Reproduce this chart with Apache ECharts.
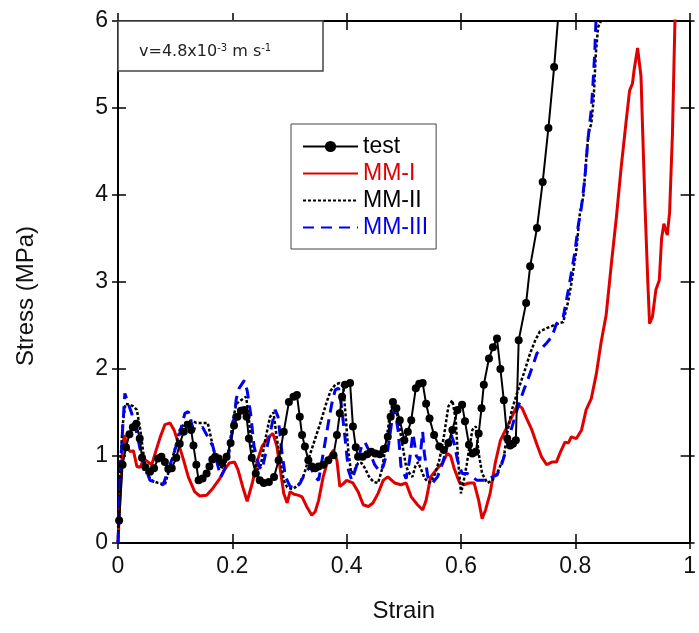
<!DOCTYPE html>
<html>
<head>
<meta charset="utf-8">
<script src="https://cdn.jsdelivr.net/npm/echarts@6/dist/echarts.min.js"></script>
<style>html,body{margin:0;padding:0;background:#fff;}#c{width:699px;height:633px;}</style>
</head>
<body>
<div id="c"></div>
<script>
var xTicks = [0, 0.2, 0.4, 0.6, 0.8, 1];
var yTicks = [0, 1, 2, 3, 4, 5, 6];
var seriesNames = ['test', 'MM-I', 'MM-II', 'MM-III'];

var testData = [[0.002,0.26],[0.008,0.9],[0.014,1.1],[0.02,1.25],[0.026,1.33],[0.032,1.37],[0.038,1.2],[0.042,0.98],[0.048,0.87],[0.056,0.82],[0.063,0.86],[0.07,0.97],[0.076,0.99],[0.082,0.93],[0.088,0.85],[0.094,0.86],[0.102,0.98],[0.108,1.14],[0.115,1.28],[0.122,1.36],[0.128,1.3],[0.132,1.12],[0.137,0.9],[0.141,0.72],[0.148,0.74],[0.155,0.8],[0.16,0.88],[0.165,0.96],[0.17,0.99],[0.176,0.97],[0.182,0.92],[0.19,0.99],[0.197,1.15],[0.203,1.35],[0.209,1.45],[0.215,1.52],[0.221,1.53],[0.225,1.45],[0.229,1.2],[0.234,0.98],[0.241,0.8],[0.248,0.72],[0.255,0.69],[0.264,0.7],[0.273,0.76],[0.281,0.95],[0.29,1.28],[0.299,1.62],[0.307,1.68],[0.313,1.7],[0.318,1.45],[0.322,1.24],[0.327,1.11],[0.333,0.95],[0.339,0.88],[0.345,0.86],[0.351,0.88],[0.359,0.9],[0.368,0.95],[0.377,1.01],[0.383,1.24],[0.388,1.49],[0.392,1.68],[0.397,1.82],[0.406,1.84],[0.411,1.34],[0.416,1.1],[0.42,0.99],[0.428,0.99],[0.436,1.02],[0.443,1.05],[0.45,1.03],[0.458,1.02],[0.465,1.08],[0.472,1.22],[0.477,1.45],[0.481,1.62],[0.487,1.55],[0.493,1.41],[0.501,1.18],[0.507,1.28],[0.513,1.41],[0.521,1.78],[0.527,1.83],[0.533,1.84],[0.539,1.6],[0.545,1.43],[0.553,1.24],[0.562,1.11],[0.57,1.07],[0.578,1.15],[0.585,1.3],[0.594,1.53],[0.602,1.59],[0.607,1.4],[0.614,1.13],[0.62,1.03],[0.626,1.05],[0.631,1.26],[0.636,1.55],[0.64,1.82],[0.649,2.12],[0.656,2.25],[0.663,2.35],[0.669,2.0],[0.675,1.64],[0.681,1.2],[0.686,1.12],[0.691,1.14],[0.696,1.18],[0.701,2.33],[0.714,2.76],[0.721,3.18],[0.733,3.62],[0.743,4.15],[0.753,4.77],[0.763,5.47],[0.772,6.2]];

var mm1Data = [[0,0],[0.004,0.6],[0.008,1.1],[0.011,1.24],[0.016,1.11],[0.021,1.05],[0.027,1.06],[0.033,0.88],[0.039,0.87],[0.045,0.97],[0.053,0.93],[0.059,0.9],[0.065,1.03],[0.074,1.22],[0.082,1.36],[0.091,1.38],[0.098,1.3],[0.105,1.16],[0.114,0.97],[0.123,0.76],[0.134,0.59],[0.143,0.54],[0.155,0.55],[0.166,0.63],[0.178,0.74],[0.186,0.84],[0.195,0.92],[0.204,0.93],[0.21,0.84],[0.218,0.65],[0.226,0.48],[0.235,0.69],[0.244,0.95],[0.252,1.11],[0.264,1.22],[0.271,1.26],[0.278,1.11],[0.284,0.84],[0.29,0.57],[0.296,0.46],[0.301,0.59],[0.308,0.56],[0.315,0.55],[0.322,0.53],[0.33,0.42],[0.339,0.32],[0.345,0.36],[0.351,0.49],[0.359,0.76],[0.368,0.97],[0.377,1.07],[0.383,0.95],[0.388,0.65],[0.394,0.68],[0.4,0.72],[0.411,0.69],[0.42,0.59],[0.429,0.44],[0.438,0.42],[0.446,0.46],[0.455,0.57],[0.464,0.72],[0.472,0.76],[0.484,0.69],[0.495,0.67],[0.504,0.69],[0.513,0.53],[0.524,0.44],[0.533,0.38],[0.539,0.49],[0.547,0.76],[0.559,0.86],[0.568,0.92],[0.576,1.03],[0.582,1.0],[0.588,0.86],[0.597,0.7],[0.605,0.67],[0.614,0.69],[0.623,0.69],[0.631,0.49],[0.637,0.28],[0.643,0.38],[0.651,0.57],[0.66,0.92],[0.669,1.18],[0.678,1.3],[0.689,1.45],[0.699,1.59],[0.707,1.55],[0.715,1.43],[0.724,1.3],[0.733,1.13],[0.741,0.99],[0.75,0.9],[0.759,0.93],[0.767,0.93],[0.773,1.03],[0.782,1.16],[0.788,1.15],[0.793,1.22],[0.802,1.2],[0.811,1.3],[0.819,1.53],[0.828,1.66],[0.837,1.95],[0.845,2.3],[0.854,2.62],[0.863,3.2],[0.872,3.75],[0.88,4.3],[0.889,4.85],[0.895,5.2],[0.9,5.28],[0.903,5.44],[0.909,5.69],[0.915,5.36],[0.918,4.71],[0.922,3.87],[0.927,2.98],[0.93,2.52],[0.935,2.6],[0.941,2.91],[0.947,3.02],[0.951,3.5],[0.955,3.67],[0.958,3.6],[0.961,3.54],[0.965,3.8],[0.97,4.71],[0.975,6.2]];

var mm2Data = [[0,0],[0.004,0.9],[0.008,1.35],[0.013,1.6],[0.021,1.59],[0.027,1.57],[0.033,1.53],[0.039,1.3],[0.045,1.0],[0.05,0.8],[0.059,0.72],[0.07,0.69],[0.082,0.67],[0.09,0.85],[0.099,1.07],[0.108,1.3],[0.117,1.38],[0.128,1.41],[0.137,1.38],[0.146,1.38],[0.157,1.38],[0.163,1.2],[0.169,1.03],[0.178,0.88],[0.186,0.86],[0.195,1.11],[0.201,1.41],[0.207,1.6],[0.215,1.64],[0.224,1.68],[0.228,1.5],[0.232,1.22],[0.238,0.95],[0.244,0.84],[0.25,0.9],[0.258,1.2],[0.266,1.45],[0.272,1.5],[0.278,1.2],[0.284,0.95],[0.29,0.72],[0.296,0.64],[0.305,0.62],[0.315,0.66],[0.325,0.78],[0.335,1.0],[0.345,1.2],[0.355,1.4],[0.365,1.62],[0.372,1.75],[0.38,1.82],[0.388,1.84],[0.394,1.8],[0.399,1.4],[0.403,1.05],[0.408,0.8],[0.415,0.85],[0.42,0.92],[0.426,0.92],[0.432,0.86],[0.44,0.75],[0.448,0.7],[0.455,0.69],[0.462,0.85],[0.468,1.1],[0.474,1.4],[0.48,1.6],[0.486,1.55],[0.492,1.35],[0.498,1.11],[0.504,0.88],[0.51,0.8],[0.515,0.76],[0.52,0.88],[0.525,0.93],[0.53,0.85],[0.536,0.75],[0.542,0.7],[0.548,0.7],[0.555,0.8],[0.562,0.95],[0.57,1.22],[0.578,1.57],[0.585,1.64],[0.591,1.41],[0.595,0.95],[0.6,0.57],[0.605,0.72],[0.61,0.9],[0.614,1.07],[0.62,1.3],[0.626,1.34],[0.631,1.03],[0.637,0.8],[0.646,0.69],[0.655,0.72],[0.666,0.84],[0.675,0.99],[0.681,1.26],[0.689,1.53],[0.698,1.72],[0.71,1.95],[0.721,2.18],[0.73,2.33],[0.738,2.43],[0.75,2.47],[0.765,2.51],[0.779,2.54],[0.788,2.79],[0.793,2.98],[0.802,3.37],[0.808,3.79],[0.814,3.98],[0.819,4.4],[0.823,4.71],[0.828,4.82],[0.832,5.09],[0.836,5.63],[0.84,5.93],[0.845,6.0],[0.848,6.2]];

var mm3Data = [[0,0],[0.004,0.8],[0.008,1.3],[0.012,1.72],[0.018,1.6],[0.024,1.49],[0.033,1.26],[0.039,1.07],[0.047,0.88],[0.056,0.72],[0.065,0.7],[0.079,0.67],[0.088,0.84],[0.097,1.01],[0.108,1.26],[0.117,1.49],[0.123,1.51],[0.131,1.32],[0.14,1.3],[0.148,1.33],[0.157,1.22],[0.166,1.11],[0.175,0.88],[0.18,0.76],[0.189,0.88],[0.195,1.07],[0.201,1.34],[0.207,1.66],[0.212,1.78],[0.221,1.87],[0.226,1.75],[0.232,1.49],[0.238,1.11],[0.247,0.88],[0.252,0.84],[0.261,1.11],[0.27,1.38],[0.275,1.53],[0.28,1.45],[0.287,1.03],[0.293,0.76],[0.301,0.65],[0.31,0.63],[0.319,0.69],[0.327,0.8],[0.336,0.88],[0.345,0.76],[0.351,0.72],[0.359,1.03],[0.368,1.38],[0.374,1.6],[0.38,1.76],[0.386,1.78],[0.391,1.57],[0.397,1.22],[0.403,0.84],[0.409,0.72],[0.417,0.88],[0.426,1.11],[0.432,1.16],[0.44,1.05],[0.449,0.9],[0.458,0.82],[0.464,0.88],[0.472,1.07],[0.481,1.49],[0.484,1.53],[0.49,1.3],[0.495,0.88],[0.504,0.74],[0.51,0.95],[0.516,1.26],[0.522,1.0],[0.528,0.95],[0.533,1.28],[0.536,1.03],[0.542,0.76],[0.55,0.69],[0.559,0.76],[0.568,0.92],[0.576,1.11],[0.582,1.26],[0.588,1.15],[0.594,0.95],[0.602,0.8],[0.611,0.8],[0.62,0.76],[0.628,0.72],[0.637,0.72],[0.646,0.72],[0.655,0.76],[0.663,0.78],[0.672,0.92],[0.681,1.11],[0.686,1.26],[0.698,1.53],[0.71,1.76],[0.721,1.95],[0.733,2.18],[0.75,2.3],[0.759,2.37],[0.767,2.52],[0.779,2.6],[0.788,2.91],[0.793,3.1],[0.799,3.33],[0.805,3.64],[0.811,3.87],[0.817,4.21],[0.822,4.63],[0.828,4.98],[0.831,5.28],[0.834,5.63],[0.836,5.97],[0.838,6.2]];

var annotation = 'v=4.8x10{sup|-3} m s{sup|-1}';
var xName = 'Strain';
var yName = 'Stress (MPa)';

var FONT = '"Liberation Sans", Arial, sans-serif';
var chart = echarts.init(document.getElementById('c'), null, {renderer: 'canvas'});

function xAx(pos, inside, len, showLine, showLabel) {
  return {
    type: 'value', min: xTicks[0], max: xTicks[xTicks.length - 1], interval: 0.2,
    position: pos, gridIndex: 0,
    axisLine: {show: showLine, onZero: false, lineStyle: {color: '#000', width: 2}},
    axisTick: {show: true, inside: inside, length: len, lineStyle: {color: '#000', width: 1.5}},
    axisLabel: {show: showLabel, margin: 12, fontSize: 23, color: '#111', fontFamily: FONT},
    splitLine: {show: false}
  };
}
function yAx(pos, inside, len, showLine, showLabel) {
  return {
    type: 'value', min: yTicks[0], max: yTicks[yTicks.length - 1], interval: 1,
    position: pos, gridIndex: 0,
    axisLine: {show: showLine, onZero: false, lineStyle: {color: '#000', width: 2}},
    axisTick: {show: true, inside: inside, length: len, lineStyle: {color: '#000', width: 1.5}},
    axisLabel: {show: showLabel, margin: 10, fontSize: 23, color: '#111', fontFamily: FONT},
    splitLine: {show: false}
  };
}

var xa0 = xAx('bottom', false, 6, true, true);
xa0.name = xName; xa0.nameLocation = 'middle'; xa0.nameGap = 56;
xa0.nameTextStyle = {fontSize: 24, color: '#111', fontFamily: FONT};
var ya0 = yAx('left', false, 6, true, true);
ya0.name = yName; ya0.nameLocation = 'middle'; ya0.nameGap = 80;
ya0.nameTextStyle = {fontSize: 24, color: '#111', fontFamily: FONT, padding: [0, 28, 0, 0]};

var noSym = {opacity: 0};
var option = {
  backgroundColor: '#fff',
  animation: false,
  grid: {left: 118, right: 5, top: 21, bottom: 90, containLabel: false},
  xAxis: [xa0, xAx('bottom', true, 9, false, false), xAx('top', true, 9, true, false), xAx('top', false, 8, false, false)],
  yAxis: [ya0, yAx('left', true, 8, false, false), yAx('right', true, 9, true, false), yAx('right', false, 5, false, false)],
  legend: {
    orient: 'vertical', left: 291, top: 124,
    padding: [11, 8, 10, 11], itemGap: 4, itemWidth: 55, itemHeight: 14,
    borderColor: '#444', borderWidth: 1, backgroundColor: '#fff',
    textStyle: {fontSize: 23, fontFamily: FONT},
    data: [
      {name: seriesNames[0], textStyle: {color: '#000'}},
      {name: seriesNames[1], textStyle: {color: '#e00000'}, itemStyle: noSym},
      {name: seriesNames[2], textStyle: {color: '#000'}, itemStyle: noSym},
      {name: seriesNames[3], textStyle: {color: '#0000ee'}, itemStyle: noSym}
    ]
  },
  graphic: [
    {type: 'rect', z: 100, shape: {x: 118, y: 21, width: 205, height: 50},
     style: {fill: '#fff', stroke: '#444', lineWidth: 1.5}},
    {type: 'text', z: 101, x: 139, y: 52,
     style: {text: annotation, fill: '#222', font: '16px "DejaVu Sans", sans-serif', verticalAlign: 'middle',
       rich: {sup: {fontSize: 10, fontFamily: '"DejaVu Sans", sans-serif', fill: '#222', verticalAlign: 'top', padding: [0, 0, 8, 0]}}}}
  ],
  series: [
    {name: seriesNames[1], type: 'line', data: mm1Data, showSymbol: false, symbol: 'none', z: 2,
     lineStyle: {color: '#e00000', width: 3}, itemStyle: {color: '#e00000'}},
    {name: seriesNames[2], type: 'line', data: mm2Data, showSymbol: false, symbol: 'none', z: 3,
     lineStyle: {color: '#000', width: 2.5, type: [3, 2]}, itemStyle: {color: '#000'}},
    {name: seriesNames[3], type: 'line', data: mm3Data, showSymbol: false, symbol: 'none', z: 4,
     lineStyle: {color: '#0000ee', width: 3, type: [11, 7]}, itemStyle: {color: '#0000ee'}},
    {name: seriesNames[0], type: 'line', data: testData, symbol: 'circle', symbolSize: 8, z: 5,
     lineStyle: {color: '#000', width: 2}, itemStyle: {color: '#000'}}
  ]
};
chart.setOption(option);
</script>
</body>
</html>
